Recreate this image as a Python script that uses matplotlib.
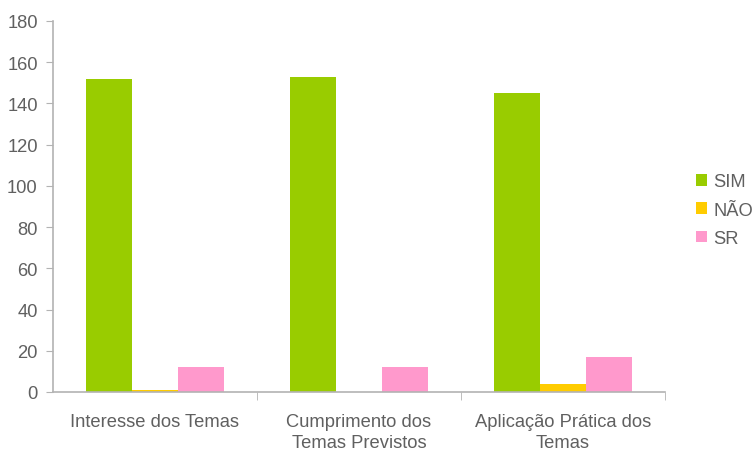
import numpy as np
import matplotlib.pyplot as plt

plt.rcParams['font.family'] = ['Liberation Sans', 'DejaVu Sans']

# data
categorias = ['Interesse dos Temas', 'Cumprimento dos\nTemas Previstos', 'Aplicação Prática dos\nTemas']
sim = [152, 153, 145]
nao = [1, 0, 4]
sr = [12, 12, 17]
series = ['SIM', 'NÃO', 'SR']
cores = ['#99cc00', '#ffcc00', '#ff99cc']

fig = plt.figure(figsize=(7.52, 4.52), dpi=100)
ax = fig.add_axes([53 / 752, 1 - 393 / 452, 612 / 752, 371 / 452])

x = np.arange(len(categorias))
w = 0.225
for i, (vals, nome, cor) in enumerate(zip([sim, nao, sr], series, cores)):
    ax.bar(x + (i - 1) * w, vals, w, color=cor, label=nome)

cinza = '#b3b3b3'
texto = '#606060'
fs = 13.2
ax.set_xlim(-0.5, 2.5)
ax.set_ylim(0, 180)
ax.set_yticks(range(0, 181, 20))
ax.set_xticks(x)
ax.set_xticklabels(categorias, color=texto, fontsize=fs, linespacing=1.3)
ax.set_xticks([0.5, 1.5, 2.5], minor=True)
ax.tick_params(axis='x', which='major', length=0, pad=15)
ax.tick_params(axis='x', which='minor', length=6, color=cinza, direction='out')
ax.tick_params(axis='y', length=5, color=cinza, labelcolor=texto, labelsize=fs, pad=6)
for lado in ['top', 'right']:
    ax.spines[lado].set_visible(False)
for lado in ['left', 'bottom']:
    ax.spines[lado].set_color(cinza)
    ax.spines[lado].set_linewidth(1.2)

leg = ax.legend(loc='center left', bbox_to_anchor=(1.035, 0.49), frameon=False,
                handlelength=0.6, handleheight=0.6, handletextpad=0.35,
                labelspacing=0.62, fontsize=fs, borderpad=0)
for t in leg.get_texts():
    t.set_color(texto)

fig.savefig('out.png', dpi=100)
